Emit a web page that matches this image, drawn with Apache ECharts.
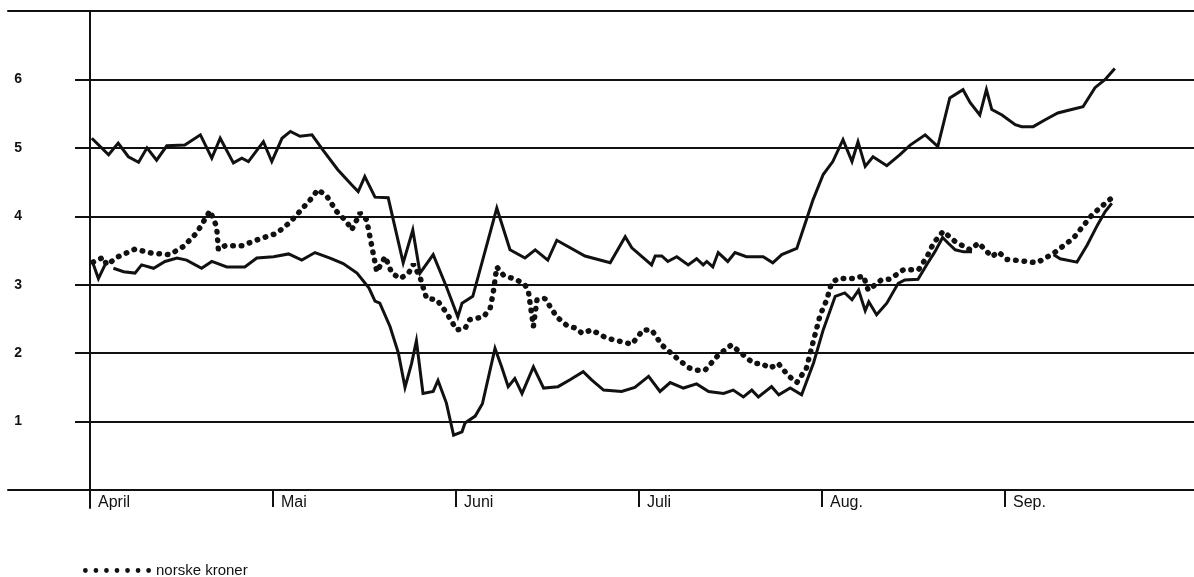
<!DOCTYPE html>
<html>
<head>
<meta charset="UTF-8">
<title>norske kroner</title>
<script src="https://cdn.jsdelivr.net/npm/echarts@6/dist/echarts.min.js"></script>
<style>
  html, body { margin: 0; padding: 0; background: #fff; }
  #main { width: 1194px; height: 577px; }
</style>
</head>
<body>
<div id="main"></div>
<script>
// month ticks on the time axis (days from 1 April, equal month widths)
var monthLabels = ['April', 'Mai', 'Juni', 'Juli', 'Aug.', 'Sep.'];
var monthStarts = [0, 30.5, 61, 91.5, 122, 152.5];
var valueTicks = [1, 2, 3, 4, 5, 6];

// upper solid line
var upperDays = [0.3, 3.1, 4.7, 6.4, 8.1, 9.5, 11.1, 12.8, 15.8, 18.4, 20.3, 21.7, 23.9, 25.3, 26.4, 28.9,
  30.3, 32.0, 33.4, 35.0, 37.0, 38.8, 41.3, 43.6, 44.7, 45.8, 47.5, 49.7, 52.2, 53.8, 55.0, 57.2,
  59.4, 61.3, 62.0, 63.8, 67.8, 70.0, 72.5, 74.2, 76.3, 77.8, 82.5, 86.7, 89.2, 90.3, 93.6, 94.2,
  95.3, 96.3, 97.8, 99.7, 101.1, 102.2, 102.8, 103.8, 104.7, 106.3, 107.5, 109.4, 112.2, 113.8, 115.3, 117.8,
  119.4, 120.5, 122.2, 123.8, 125.5, 127.0, 128.0, 129.2, 130.5, 132.8, 135.0, 136.7, 139.2, 141.3, 143.3, 145.5,
  146.7, 148.3, 149.4, 150.3, 152.0, 154.2, 155.3, 157.2, 159.2, 161.3, 163.6, 165.5, 167.5, 169.2, 170.8];
var upperValues = [5.14, 4.90, 5.07, 4.87, 4.79, 5.00, 4.82, 5.03, 5.04, 5.19, 4.85, 5.14, 4.78, 4.85, 4.80, 5.09,
  4.80, 5.14, 5.24, 5.17, 5.19, 4.97, 4.68, 4.46, 4.36, 4.58, 4.28, 4.27, 3.32, 3.80, 3.17, 3.44,
  2.97, 2.53, 2.73, 2.83, 4.12, 3.51, 3.39, 3.51, 3.36, 3.65, 3.42, 3.32, 3.70, 3.54, 3.29, 3.42,
  3.42, 3.34, 3.41, 3.29, 3.38, 3.29, 3.34, 3.26, 3.47, 3.34, 3.47, 3.41, 3.41, 3.32, 3.44, 3.53,
  3.95, 4.24, 4.61, 4.80, 5.12, 4.80, 5.09, 4.73, 4.87, 4.74, 4.90, 5.04, 5.19, 5.02, 5.73, 5.85,
  5.66, 5.48, 5.85, 5.56, 5.48, 5.34, 5.31, 5.31, 5.41, 5.51, 5.56, 5.60, 5.88, 6.00, 6.16];

// dotted line: norske kroner
var kronerDays = [0.5, 2.2, 2.8, 4.7, 7.5, 10.3, 13.3, 15.6, 17.8, 20.0, 21.1, 21.4, 22.5, 25.3, 28.3, 31.1,
  33.3, 36.7, 38.0, 39.5, 41.1, 42.8, 43.6, 44.2, 45.0, 46.1, 47.8, 49.2, 50.3, 51.7, 53.1, 53.9,
  55.0, 56.1, 57.8, 59.5, 61.1, 62.5, 63.3, 65.6, 66.7, 67.2, 67.8, 68.9, 71.1, 72.5, 73.1, 73.9,
  74.5, 75.8, 77.8, 79.4, 81.1, 82.0, 83.6, 86.1, 90.3, 92.2, 93.6, 95.3, 97.5, 99.7, 101.1, 102.5,
  104.7, 106.9, 109.2, 110.6, 111.9, 113.3, 114.7, 116.4, 117.8, 119.4, 120.6, 121.7, 122.8, 123.6, 124.7, 127.5,
  128.9, 129.7, 131.9, 133.3, 135.6, 138.1, 139.5, 140.6, 142.2, 144.2, 146.7, 148.1, 150.3, 151.4, 152.8, 156.1,
  157.8, 160.6, 163.9, 167.0, 169.2, 170.6];
var kronerValues = [3.33, 3.40, 3.29, 3.41, 3.52, 3.46, 3.44, 3.56, 3.76, 4.08, 3.85, 3.51, 3.57, 3.57, 3.67, 3.75,
  3.91, 4.24, 4.39, 4.29, 4.07, 3.92, 3.80, 3.90, 4.05, 3.95, 3.19, 3.41, 3.17, 3.09, 3.17, 3.30,
  3.11, 2.80, 2.78, 2.58, 2.34, 2.36, 2.49, 2.53, 2.66, 2.88, 3.26, 3.14, 3.07, 3.00, 2.88, 2.39,
  2.78, 2.80, 2.53, 2.41, 2.36, 2.29, 2.34, 2.22, 2.13, 2.34, 2.34, 2.12, 1.95, 1.79, 1.75, 1.75,
  1.97, 2.12, 1.95, 1.85, 1.85, 1.78, 1.85, 1.67, 1.57, 1.78, 2.19, 2.56, 2.78, 3.03, 3.09, 3.09,
  3.13, 2.92, 3.07, 3.08, 3.22, 3.22, 3.41, 3.61, 3.78, 3.63, 3.51, 3.61, 3.41, 3.48, 3.37, 3.34,
  3.32, 3.46, 3.68, 4.02, 4.19, 4.29];

// lower solid line (null = break in the line)
var lowerDays = [0.3, 1.4, 2.5, 3.2, 3.9, 5.6, 7.5, 8.6, 10.6, 12.5, 14.5, 16.1, 18.6, 20.3, 22.8, 25.8,
  27.8, 30.6, 33.1, 35.3, 37.5, 40.0, 42.2, 44.5, 46.5, 47.5, 48.3, 50.0, 51.4, 52.5, 53.6, 54.4,
  55.5, 57.2, 58.0, 59.4, 60.6, 62.0, 62.5, 64.2, 65.4, 67.5, 68.6, 69.7, 70.8, 72.0, 73.9, 75.6,
  78.0, 80.0, 82.2, 83.6, 85.6, 88.6, 90.8, 93.1, 95.0, 96.7, 98.9, 101.1, 103.1, 105.6, 107.2, 108.9,
  110.3, 111.4, 113.6, 114.8, 116.7, 118.6, 120.6, 122.2, 124.2, 125.8, 127.0, 128.1, 129.2, 129.8, 131.1, 132.8,
  134.7, 135.8, 138.0, 139.5, 140.8, 142.1, 143.0, 144.2, 145.6, 147.0, 154.0, 160.6, 161.7, 164.5, 166.2, 167.9,
  169.2, 170.3];
var lowerValues = [3.36, 3.09, 3.29, null, 3.24, 3.19, 3.17, 3.29, 3.24, 3.34, 3.39, 3.36, 3.24, 3.34, 3.26, 3.26,
  3.39, 3.41, 3.45, 3.36, 3.47, 3.39, 3.31, 3.17, 2.95, 2.76, 2.73, 2.39, 2.00, 1.50, 1.85, 2.18,
  1.41, 1.44, 1.60, 1.27, 0.80, 0.85, 0.98, 1.08, 1.26, 2.07, 1.80, 1.51, 1.63, 1.41, 1.80, 1.49,
  1.51, 1.61, 1.73, 1.61, 1.46, 1.44, 1.50, 1.66, 1.44, 1.57, 1.49, 1.55, 1.44, 1.41, 1.46, 1.36,
  1.46, 1.36, 1.51, 1.39, 1.49, 1.39, 1.86, 2.34, 2.83, 2.88, 2.78, 2.92, 2.62, 2.75, 2.56, 2.73,
  3.02, 3.07, 3.08, 3.30, 3.48, 3.69, 3.61, 3.51, 3.48, 3.48, null, 3.44, 3.38, 3.33, 3.58, 3.87,
  4.07, 4.19];

function pairs(days, vals) {
  return days.map(function (d, i) { return [d, vals[i] === null ? '-' : vals[i]]; });
}

// legend key: a row of seven dots
var dotIcon = 'path://';
for (var k = 0; k < 7; k++) {
  var cx = 2.5 + k * 11;
  dotIcon += 'M' + (cx - 2.5) + ',2.5 a2.5,2.5 0 1,0 5,0 a2.5,2.5 0 1,0 -5,0 ';
}

var ink = '#111';
var myChart = echarts.init(document.getElementById('main'));

option = {
  animation: false,
  backgroundColor: '#fff',
  grid: [
    // data grid: reaches from the far left to below the baseline
    { left: 8, right: 0, top: 11, bottom: 69 },
    // grid for the horizontal value lines 1..6
    { left: 75, right: 0, top: 11, bottom: 87 }
  ],
  legend: {
    data: [{ name: 'norske kroner', icon: dotIcon }],
    left: 78,
    top: 558,
    itemWidth: 68,
    itemHeight: 5,
    itemGap: 8,
    itemStyle: { color: ink },
    textStyle: { fontFamily: 'Liberation Sans', fontSize: 15, color: ink }
  },
  xAxis: [
    {
      gridIndex: 0,
      type: 'value',
      min: -13.667,
      max: 184,
      axisLine: { onZero: true, lineStyle: { color: ink, width: 2 } },
      axisTick: { show: true, inside: false, length: 17, customValues: monthStarts, lineStyle: { color: ink, width: 2 } },
      axisLabel: {
        customValues: monthStarts,
        formatter: function (v) {
          var i = monthStarts.indexOf(v);
          return i >= 0 ? monthLabels[i] : '';
        },
        align: 'left',
        verticalAlign: 'top',
        padding: [0, 0, 0, 8],
        margin: -13,
        fontFamily: 'Liberation Sans',
        fontSize: 16,
        color: ink
      },
      splitLine: { show: false }
    },
    {
      gridIndex: 0,
      type: 'value',
      position: 'top',
      min: -13.667,
      max: 184,
      axisLine: { onZero: false, lineStyle: { color: ink, width: 2 } },
      axisTick: { show: false },
      axisLabel: { show: false },
      splitLine: { show: false }
    },
    {
      gridIndex: 1,
      type: 'value',
      min: 0,
      max: 1,
      show: false
    }
  ],
  yAxis: [
    {
      gridIndex: 0,
      type: 'value',
      min: -0.263,
      max: 7,
      axisLine: { show: true, onZero: true, lineStyle: { color: ink, width: 2 } },
      axisTick: { show: false },
      axisLabel: { show: false },
      splitLine: { show: false }
    },
    {
      gridIndex: 1,
      type: 'value',
      min: 0,
      max: 7,
      interval: 1,
      axisLine: { show: false },
      axisTick: { show: false },
      axisLabel: {
        margin: 53,
        fontFamily: 'Liberation Sans',
        fontWeight: 'bold',
        fontSize: 14,
        color: ink,
        formatter: function (v) { return valueTicks.indexOf(v) >= 0 ? String(v) : ''; }
      },
      splitLine: { show: true, lineStyle: { color: ink, width: 2 } }
    }
  ],
  series: [
    {
      name: 'upper',
      type: 'line',
      xAxisIndex: 0,
      yAxisIndex: 0,
      data: pairs(upperDays, upperValues),
      symbol: 'none',
      lineStyle: { color: ink, width: 3, join: 'miter' }
    },
    {
      name: 'norske kroner',
      type: 'line',
      xAxisIndex: 0,
      yAxisIndex: 0,
      data: pairs(kronerDays, kronerValues),
      symbol: 'none',
      itemStyle: { color: ink },
      lineStyle: { color: ink, width: 5.5, type: [0.5, 8], cap: 'round' }
    },
    {
      name: 'lower',
      type: 'line',
      xAxisIndex: 0,
      yAxisIndex: 0,
      data: pairs(lowerDays, lowerValues),
      symbol: 'none',
      connectNulls: false,
      lineStyle: { color: ink, width: 3, join: 'miter' }
    }
  ]
};
myChart.setOption(option);
</script>
</body>
</html>
